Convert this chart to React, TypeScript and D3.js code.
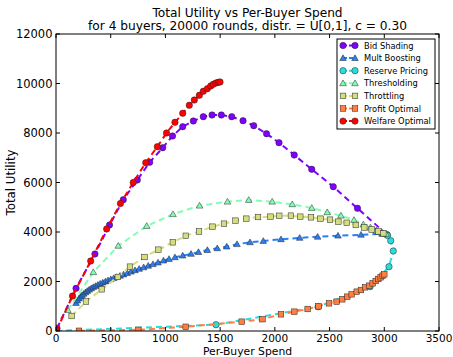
import React from "react";
import * as d3 from "d3";

// Per-buyer spend vs total utility for each mechanism, [spend, utility]
const bidShading: [number, number][] = [
  [9, 109], [183, 1725], [356, 3111], [489, 4283], [615, 5305], [743, 6101],
  [856, 6816], [975, 7406], [1065, 7879], [1158, 8255], [1255, 8485], [1346, 8659],
  [1426, 8727], [1511, 8727], [1606, 8659], [1709, 8497], [1807, 8295], [1924, 7972],
  [2038, 7608], [2177, 7111], [2337, 6533], [2534, 5830], [2755, 4958], [3025, 3891],
];

const multBoosting: [number, number][] = [
  [183, 1131], [196, 1232], [210, 1313], [224, 1382], [238, 1442], [253, 1503],
  [270, 1560], [286, 1616], [303, 1669], [322, 1721], [341, 1770], [361, 1818],
  [382, 1867], [404, 1911], [427, 1956], [451, 2000], [475, 2044], [501, 2089],
  [527, 2133], [555, 2178], [585, 2230], [617, 2283], [651, 2339], [685, 2396],
  [722, 2453], [760, 2509], [801, 2570], [843, 2634], [886, 2699], [932, 2764],
  [982, 2844], [1033, 2909], [1087, 2978], [1158, 3046], [1234, 3115], [1302, 3188],
  [1383, 3269], [1474, 3341], [1560, 3410], [1654, 3507], [1773, 3584], [1894, 3636],
  [2056, 3705], [2227, 3762], [2391, 3806], [2577, 3851], [2787, 3887], [2979, 3927],
];

const reservePricing: [number, number][] = [
  [0, 0], [1462, 255], [2397, 982], [2870, 1790], [3043, 2598], [3082, 3232],
  [3059, 3648], [3030, 3860],
];

const thresholding: [number, number][] = [
  [108, 848], [341, 2376], [569, 3442], [829, 4242], [1069, 4719], [1312, 5063],
  [1567, 5224], [1761, 5293], [1976, 5224], [2159, 5119], [2337, 4970], [2479, 4796],
  [2604, 4659], [2723, 4485], [2808, 4303], [2874, 4182], [2927, 4061], [2970, 4000],
  [3016, 3919],
];

const throttling: [number, number][] = [
  [143, 606], [274, 1192], [418, 1685], [565, 2182], [676, 2598], [809, 2990],
  [935, 3285], [1068, 3584], [1186, 3846], [1307, 4020], [1430, 4214], [1535, 4335],
  [1640, 4457], [1739, 4537], [1846, 4606], [1960, 4618], [2040, 4655], [2147, 4659],
  [2232, 4618], [2330, 4594], [2417, 4537], [2504, 4497], [2580, 4416], [2657, 4372],
  [2740, 4283], [2817, 4182], [2885, 4101], [2947, 4020], [2991, 3947],
];

const profitOptimal: [number, number][] = [
  [210, 8], [752, 48], [1185, 170], [1697, 376], [1887, 477], [2056, 675],
  [2178, 780], [2300, 889], [2399, 998], [2495, 1119], [2565, 1184], [2616, 1281],
  [2662, 1386], [2702, 1483], [2748, 1588], [2787, 1657], [2824, 1766], [2863, 1830],
  [2894, 1927], [2922, 2020], [2945, 2101], [2967, 2170], [2985, 2234], [3000, 2291],
];

const welfareOptimal: [number, number][] = [
  [5, 20], [151, 1414], [317, 2828], [463, 4121], [589, 5152], [706, 6000],
  [820, 6800], [926, 7447], [1010, 8000], [1087, 8432], [1158, 8796], [1218, 9119],
  [1264, 9333], [1310, 9523], [1346, 9685], [1383, 9790], [1414, 9899], [1437, 9968],
  [1462, 10020], [1483, 10048], [1499, 10061],
];

const seriesNames = [
  "Bid Shading", "Mult Boosting", "Reserve Pricing", "Thresholding",
  "Throttling", "Profit Optimal", "Welfare Optimal",
];
const seriesData = [
  bidShading, multBoosting, reservePricing, thresholding,
  throttling, profitOptimal, welfareOptimal,
];
const seriesMarkers = ["circle", "triangle", "circle", "triangle", "square", "square", "circle"];

const xTicks = [0, 500, 1000, 1500, 2000, 2500, 3000, 3500];
const yTicks = [0, 2000, 4000, 6000, 8000, 10000, 12000];

const titleLines = [
  "Total Utility vs Per-Buyer Spend",
  "for 4 buyers, 20000 rounds, distr. = U[0,1], c = 0.30",
];

const W = 453;
const H = 357;
const M = { left: 56, right: 14, top: 34, bottom: 26 };
const FONT = "'DejaVu Sans', 'Noto Sans', sans-serif";

// matplotlib's "rainbow" colormap
function rainbow(t: number): string {
  const r = Math.min(1, Math.abs(2 * t - 0.5));
  const g = Math.sin(Math.PI * t);
  const b = Math.cos((Math.PI * t) / 2);
  return d3.rgb(r * 255, g * 255, b * 255).formatHex();
}

function Marker({ kind, x, y, fill }: { kind: string; x: number; y: number; fill: string }) {
  const stroke = "#222";
  const sw = 0.5;
  if (kind === "circle") {
    return <circle cx={x} cy={y} r={3.2} fill={fill} stroke={stroke} strokeWidth={sw} />;
  }
  if (kind === "square") {
    return <rect x={x - 2.8} y={y - 2.8} width={5.6} height={5.6} fill={fill} stroke={stroke} strokeWidth={sw} />;
  }
  const tri = d3.symbol(d3.symbolTriangle, 19)() as string;
  return <path d={tri} transform={`translate(${x},${y + 0.5})`} fill={fill} stroke={stroke} strokeWidth={sw} />;
}

export default function App() {
  const x = d3.scaleLinear().domain([0, 3500]).range([M.left, W - M.right]);
  const y = d3.scaleLinear().domain([0, 12000]).range([H - M.bottom, M.top]);
  const line = d3
    .line<[number, number]>()
    .x((d) => x(d[0]))
    .y((d) => y(d[1]));
  const pal = seriesNames.map((_, i) => rainbow(i / (seriesNames.length - 1)));

  const x0 = x(0), x1 = x(3500), y0 = y(0), y1 = y(12000);
  const legX = 337, legY = 39, legW = 98, legH = 90, rowH = 12.6;
  const txt = { fontFamily: FONT };

  return (
    <svg
      width={W}
      height={H}
      style={{ position: "absolute", left: 0, top: 0, background: "#fff", fontFamily: FONT }}
    >
      <rect x={0} y={0} width={W} height={H} fill="#fff" />
      {titleLines.map((t, i) => (
        <text key={t} x={(x0 + x1) / 2} y={16.7 + i * 13.6} textAnchor="middle" fontSize={12.2} fill="#000" style={txt}>
          {t}
        </text>
      ))}

      <defs>
        <clipPath id="plot">
          <rect x={x0} y={y1} width={x1 - x0} height={y0 - y1} />
        </clipPath>
      </defs>

      <g clipPath="url(#plot)">
        {seriesData.map((data, i) => (
          <g key={seriesNames[i]}>
            <path d={line(data) as string} fill="none" stroke={pal[i]} strokeWidth={2} strokeDasharray="6,4" />
            {data.map((d, j) => (
              <Marker key={j} kind={seriesMarkers[i]} x={x(d[0])} y={y(d[1])} fill={pal[i]} />
            ))}
          </g>
        ))}
      </g>

      {/* frame and inward ticks on all sides */}
      <rect x={x0} y={y1} width={x1 - x0} height={y0 - y1} fill="none" stroke="#000" strokeWidth={1} />
      {xTicks.map((t) => (
        <g key={`x${t}`}>
          <line x1={x(t)} x2={x(t)} y1={y0} y2={y0 - 4} stroke="#000" />
          <line x1={x(t)} x2={x(t)} y1={y1} y2={y1 + 4} stroke="#000" />
          <text x={x(t)} y={y0 + 11} textAnchor="middle" fontSize={10.5} fill="#000" style={txt}>
            {t}
          </text>
        </g>
      ))}
      {yTicks.map((t) => (
        <g key={`y${t}`}>
          <line x1={x0} x2={x0 + 4} y1={y(t)} y2={y(t)} stroke="#000" />
          <line x1={x1} x2={x1 - 4} y1={y(t)} y2={y(t)} stroke="#000" />
          <text x={x0 - 3.5} y={y(t) + 4} textAnchor="end" fontSize={11.5} fill="#000" style={txt}>
            {t}
          </text>
        </g>
      ))}
      <text x={(x0 + x1) / 2} y={H - 2.5} textAnchor="middle" fontSize={10.8} fill="#000" style={txt}>
        Per-Buyer Spend
      </text>
      <text
        transform={`translate(15,${(y0 + y1) / 2}) rotate(-90)`}
        textAnchor="middle"
        fontSize={11.8}
        fill="#000"
        style={txt}
      >
        Total Utility
      </text>

      {/* legend */}
      <rect x={legX} y={legY} width={legW} height={legH} fill="#fff" stroke="#000" strokeWidth={1} />
      {seriesNames.map((name, i) => {
        const cy = legY + 6.5 + i * rowH;
        return (
          <g key={name}>
            <line x1={343} x2={355} y1={cy} y2={cy} stroke={pal[i]} strokeWidth={2} strokeDasharray="4,2" />
            <Marker kind={seriesMarkers[i]} x={343} y={cy} fill={pal[i]} />
            <Marker kind={seriesMarkers[i]} x={355} y={cy} fill={pal[i]} />
            <text x={364} y={cy + 3} fontSize={8.3} fill="#000" style={txt}>
              {name}
            </text>
          </g>
        );
      })}
    </svg>
  );
}
